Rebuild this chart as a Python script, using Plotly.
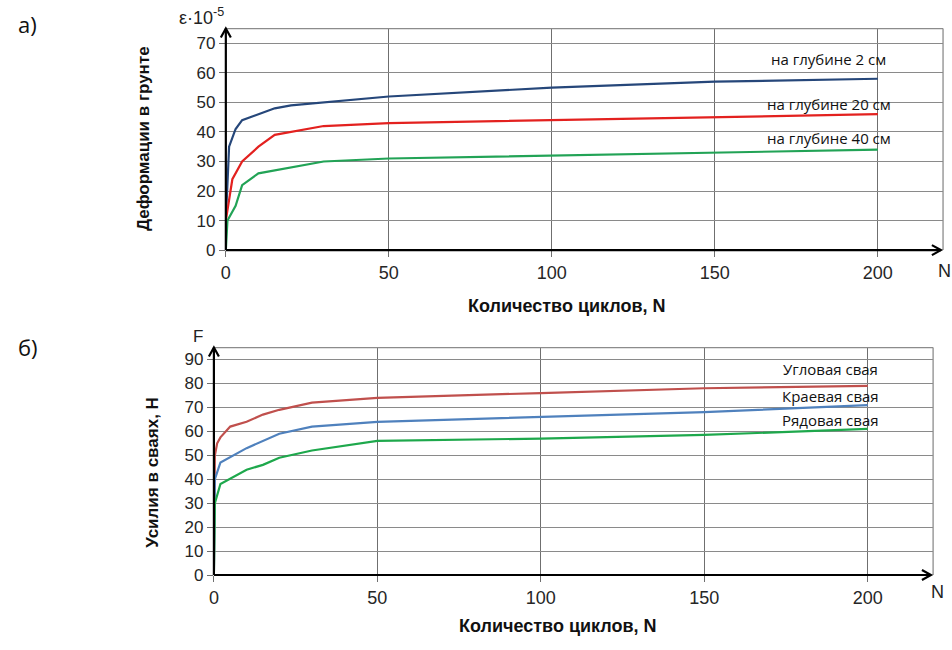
import plotly.graph_objects as go

# ---- data: chart a) soil deformation, eps*1e-5 ----
n_2cm = [0, 1, 3, 5, 10, 15, 20, 30, 50, 100, 150, 200]
eps_2cm = [10, 35, 41, 44, 46, 48, 49, 50, 52, 55, 57, 58]
n_20cm = [0, 2, 5, 10, 15, 30, 50, 100, 150, 200]
eps_20cm = [10, 24, 30, 35, 39, 42, 43, 44, 45, 46]
n_40cm = [0, 0.5, 3, 5, 10, 20, 30, 50, 100, 150, 200]
eps_40cm = [0, 10, 15, 22, 26, 28, 30, 31, 32, 33, 34]

# ---- data: chart b) forces in piles, N ----
n_corner = [0, 0.3, 1, 2, 5, 10, 15, 20, 30, 50, 100, 150, 200]
f_corner = [0, 50, 55, 57.5, 62, 64, 67, 69, 72, 74, 76, 78, 79]
n_edge = [0, 0.3, 2, 10, 20, 30, 50, 100, 150, 200]
f_edge = [0, 40, 47, 53, 59, 62, 64, 66, 68, 71]
n_row = [0, 0.3, 2, 10, 15, 20, 30, 40, 50, 100, 150, 200]
f_row = [0, 30, 38, 44, 46, 49, 52, 54, 56, 57, 58.5, 61]

labels_a = ["на глубине 2 см", "на глубине 20 см", "на глубине 40 см"]
labels_b = ["Угловая свая", "Краевая свая", "Рядовая свая"]
x_ticks = [0, 50, 100, 150, 200]
y_ticks_a = [0, 10, 20, 30, 40, 50, 60, 70]
y_ticks_b = [0, 10, 20, 30, 40, 50, 60, 70, 80, 90]

W, H = 952, 650
def px(x):
    return x / W
def py(y):
    return 1 - y / H

XTICKF = dict(family="Liberation Sans, Arial", size=18, color="#262626")
YTICKF = dict(family="Liberation Sans, Arial", size=17, color="#262626")
LBLF = dict(family="Open Sans", size=15, color="#111111")
BOLDF = dict(family="Liberation Sans, Arial", size=18, color="#111111")

fig = go.Figure()

series_a = [(n_2cm, eps_2cm, "#26477A"), (n_20cm, eps_20cm, "#E3211F"), (n_40cm, eps_40cm, "#22A356")]
for (xs, ys, c), name in zip(series_a, labels_a):
    fig.add_trace(go.Scatter(x=xs, y=ys, mode="lines", line=dict(color=c, width=2.2),
                             name=name, xaxis="x", yaxis="y", showlegend=False))

series_b = [(n_corner, f_corner, "#C0504D"), (n_edge, f_edge, "#4F81BD"), (n_row, f_row, "#1EA84C")]
for (xs, ys, c), name in zip(series_b, labels_b):
    fig.add_trace(go.Scatter(x=xs, y=ys, mode="lines", line=dict(color=c, width=2.2),
                             name=name, xaxis="x2", yaxis="y2", showlegend=False))

x_common = dict(showgrid=True, gridcolor="#6f6f6f", gridwidth=1, zeroline=False,
                showline=False, ticks="outside", ticklen=6, tickcolor="#6f6f6f",
                tickfont=XTICKF)
y_common = dict(showgrid=True, gridcolor="#8a8a8a", gridwidth=1, zeroline=False,
                showline=False, ticks="outside", ticklen=6, tickcolor="#6f6f6f",
                tickfont=YTICKF)

fig.update_layout(
    width=W, height=H, margin=dict(l=0, r=0, t=0, b=0),
    paper_bgcolor="white", plot_bgcolor="white",
    xaxis=dict(domain=[px(222), px(943)], range=[0, 220], tickvals=x_ticks, anchor="y", **x_common),
    yaxis=dict(domain=[py(254), py(29)], range=[0, 75], tickvals=y_ticks_a, anchor="x", **y_common),
    xaxis2=dict(domain=[px(210), px(933)], range=[0, 220], tickvals=x_ticks, anchor="y2", **x_common),
    yaxis2=dict(domain=[py(584), py(353)], range=[0, 95], tickvals=y_ticks_b, anchor="x2", **y_common),
)

shapes = []
annotations = []
for xa, ya in [("x", "y"), ("x2", "y2")]:
    # frame top and right
    shapes.append(dict(type="line", xref=xa + " domain", yref=ya + " domain", x0=0, x1=1, y0=1, y1=1,
                       line=dict(color="#8c8c8c", width=1.3)))
    shapes.append(dict(type="line", xref=xa + " domain", yref=ya + " domain", x0=1, x1=1, y0=0, y1=1,
                       line=dict(color="#8c8c8c", width=1.3)))
    # black axis lines
    shapes.append(dict(type="line", xref=xa + " domain", yref=ya + " domain", x0=0, x1=0.997, y0=0, y1=0,
                       line=dict(color="black", width=2.2)))
    shapes.append(dict(type="line", xref=xa + " domain", yref=ya + " domain", x0=0, x1=0, y0=0, y1=1.0,
                       line=dict(color="black", width=2.2)))
    # axis arrow heads (open chevrons, pixel-sized)
    shapes.append(dict(type="path", xref=xa + " domain", yref=ya + " domain",
                       xsizemode="pixel", ysizemode="pixel", xanchor=0, yanchor=1.0,
                       path="M -5,-9 L 0,0 L 5,-9", line=dict(color="black", width=2.2)))
    shapes.append(dict(type="path", xref=xa + " domain", yref=ya + " domain",
                       xsizemode="pixel", ysizemode="pixel", xanchor=0.997, yanchor=0,
                       path="M -9,5 L 0,0 L -9,-5", line=dict(color="black", width=2.2)))

def ann(text, x, y, font, **kw):
    d = dict(text=text, x=px(x), y=py(y), xref="paper", yref="paper", showarrow=False, font=font,
             xanchor="center", yanchor="middle")
    d.update(kw)
    annotations.append(d)

# series labels
for t, yy in zip(labels_a, [60, 106, 140]):
    ann(t, 828, yy, LBLF)
for t, yy in zip(labels_b, [375, 402, 427]):
    ann(t, 830, yy, LBLF)

# panel letters
ann("а)", 23, 24, dict(family="Open Sans", size=22, color="#111111"))
ann("б)", 23, 352, dict(family="Open Sans", size=22, color="#111111"))

# axis symbols
ann("ε·10<sup>-5</sup>", 198, 17, dict(family="Liberation Sans, Arial", size=18, color="#222222"))
ann("F", 194, 342, dict(family="Liberation Sans, Arial", size=17, color="#222222"))
ann("N", 944, 275, dict(family="Liberation Sans, Arial", size=18, color="#222222"))
ann("N", 937, 601, dict(family="Liberation Sans, Arial", size=18, color="#222222"))

# axis titles
ann("<b>Количество циклов, N</b>", 565, 311, BOLDF)
ann("<b>Количество циклов, N</b>", 556, 636, BOLDF)
ann("<b>Деформации в грунте</b>", 140, 141, dict(BOLDF, size=17), textangle=-90)
ann("<b>Усилия в сваях, Н</b>", 148, 480, dict(BOLDF, size=17), textangle=-90)

fig.update_layout(shapes=shapes, annotations=annotations)
fig.write_html("out.html", config={"displayModeBar": False},
               post_script="document.body.style.margin='0';")
